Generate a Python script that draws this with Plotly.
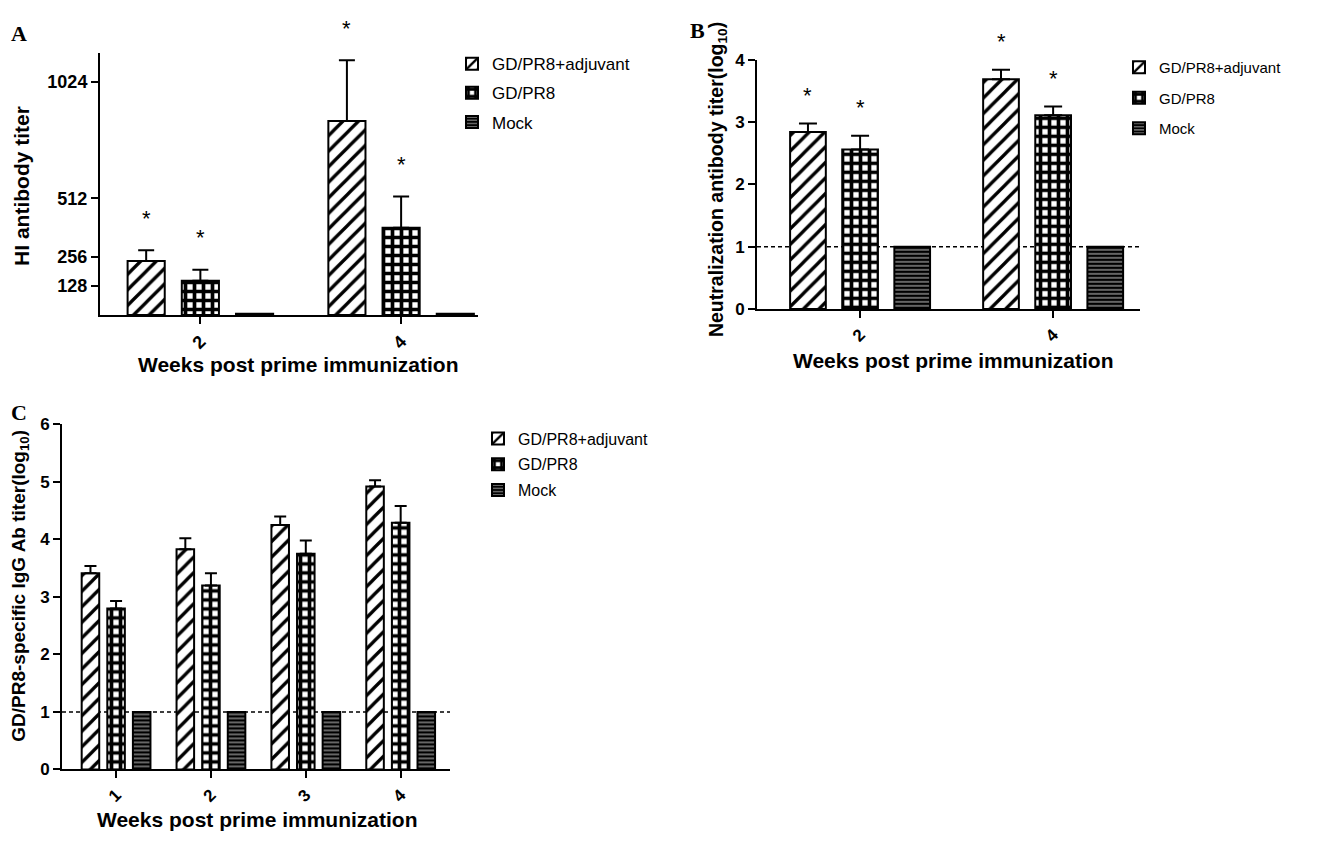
import plotly.graph_objects as go

groups = ["GD/PR8+adjuvant", "GD/PR8", "Mock"]

# ---- Panel A: HI antibody titer ----
a_weeks = ["2", "4"]
a_mean = {"GD/PR8+adjuvant": [237, 851], "GD/PR8": [150, 383], "Mock": [5, 5]}
a_err = {"GD/PR8+adjuvant": [47, 267], "GD/PR8": [48, 137], "Mock": [0, 0]}
a_star = {"GD/PR8+adjuvant": [True, True], "GD/PR8": [True, True], "Mock": [False, False]}
a_yticks = [128, 256, 512, 1024]

# ---- Panel B: neutralization titer (log10) ----
b_weeks = ["2", "4"]
b_mean = {"GD/PR8+adjuvant": [2.84, 3.69], "GD/PR8": [2.56, 3.11], "Mock": [1.0, 1.0]}
b_err = {"GD/PR8+adjuvant": [0.14, 0.15], "GD/PR8": [0.22, 0.14], "Mock": [0, 0]}
b_star = {"GD/PR8+adjuvant": [True, True], "GD/PR8": [True, True], "Mock": [False, False]}
b_yticks = [0, 1, 2, 3, 4]

# ---- Panel C: IgG titer (log10) ----
c_weeks = ["1", "2", "3", "4"]
c_mean = {"GD/PR8+adjuvant": [3.41, 3.83, 4.25, 4.92], "GD/PR8": [2.80, 3.20, 3.75, 4.29], "Mock": [1.0, 1.0, 1.0, 1.0]}
c_err = {"GD/PR8+adjuvant": [0.13, 0.19, 0.15, 0.11], "GD/PR8": [0.13, 0.21, 0.23, 0.29], "Mock": [0, 0, 0, 0]}
c_yticks = [0, 1, 2, 3, 4, 5, 6]

detection_limit = 1

# ---- styles ----
FONT = "Liberation Sans, Arial, sans-serif"
PITCH = 0.27
BW = 0.185
patterns = {
    "GD/PR8+adjuvant": dict(shape="/", fgcolor="black", bgcolor="white", size=11, solidity=0.3, fgopacity=1),
    "GD/PR8": dict(shape="+", fgcolor="black", bgcolor="white", size=9, solidity=0.65, fgopacity=1),
    "Mock": dict(shape="-", fgcolor="white", bgcolor="black", size=4, solidity=0.2, fgopacity=1),
}

W, H = 1324, 843
def px_x(p):
    return p / W
def px_y(p):
    return 1 - p / H

fig = go.Figure()
annotations = []

panels = [
    dict(key="A", weeks=a_weeks, mean=a_mean, err=a_err, star=a_star, xa="x", ya="y", legend="legend",
         cap=8, starshift=32),
    dict(key="B", weeks=b_weeks, mean=b_mean, err=b_err, star=b_star, xa="x2", ya="y2", legend="legend2",
         cap=9, starshift=28),
    dict(key="C", weeks=c_weeks, mean=c_mean, err=c_err, star=None, xa="x3", ya="y3", legend="legend3",
         cap=6, starshift=0),
]

for p in panels:
    idx = list(range(len(p["weeks"])))
    for k, g in enumerate(groups):
        off = (k - 1) * PITCH
        has_err = any(e > 0 for e in p["err"][g])
        fig.add_trace(go.Bar(
            x=idx, y=p["mean"][g], name=g, xaxis=p["xa"], yaxis=p["ya"],
            width=BW, offset=off - BW / 2,
            marker=dict(color="white", line=dict(color="black", width=2), pattern=patterns[g]),
            error_y=dict(type="data", symmetric=False, array=p["err"][g],
                         arrayminus=[0] * len(idx), color="black", thickness=2,
                         width=p["cap"], visible=has_err),
            legend=p["legend"], legendgroup=p["key"] + g, showlegend=True,
        ))
        if p["star"] is not None:
            for i in idx:
                if p["star"][g][i]:
                    annotations.append(dict(
                        x=i + off, y=p["mean"][g][i] + p["err"][g][i],
                        xref=p["xa"], yref=p["ya"], text="*", showarrow=False,
                        xanchor="center", yanchor="middle", yshift=p["starshift"],
                        font=dict(family=FONT, size=22, color="black")))

axis_common = dict(showline=True, linecolor="black", linewidth=2, showgrid=False, zeroline=False,
                   ticks="outside", ticklen=7, tickwidth=2, tickcolor="black")

fig.update_layout(
    width=W, height=H, margin=dict(l=0, r=0, t=0, b=0),
    paper_bgcolor="white", plot_bgcolor="white",
    barmode="overlay",
    xaxis=dict(domain=[px_x(100), px_x(478)], range=[-0.5, 1.383], anchor="y",
               tickvals=list(range(len(a_weeks))), ticktext=a_weeks, tickangle=-45,
               tickfont=dict(family=FONT, size=18, weight="bold", color="black"), **axis_common),
    yaxis=dict(domain=[px_y(313), px_y(45)], range=[0, 1150], anchor="x",
               tickvals=a_yticks, tickfont=dict(family=FONT, size=18, weight="bold", color="black"),
               **axis_common),
    xaxis2=dict(domain=[px_x(757), px_x(1140)], range=[-0.534, 1.45], anchor="y2",
                tickvals=list(range(len(b_weeks))), ticktext=b_weeks, tickangle=-45,
                tickfont=dict(family=FONT, size=17, weight="bold", color="black"), **axis_common),
    yaxis2=dict(domain=[px_y(307), px_y(52)], range=[0, 4], anchor="x2",
                tickvals=b_yticks, tickfont=dict(family=FONT, size=17, weight="bold", color="black"),
                **axis_common),
    xaxis3=dict(domain=[px_x(62), px_x(450)], range=[-0.57, 3.52], anchor="y3",
                tickvals=list(range(len(c_weeks))), ticktext=c_weeks, tickangle=-45,
                tickfont=dict(family=FONT, size=17, weight="bold", color="black"), **axis_common),
    yaxis3=dict(domain=[px_y(778), px_y(425)], range=[0, 6], anchor="x3",
                tickvals=c_yticks, tickfont=dict(family=FONT, size=17, weight="bold", color="black"),
                **axis_common),
    legend=dict(x=px_x(452), y=px_y(38), xanchor="left", yanchor="top", tracegroupgap=4,
                font=dict(family=FONT, size=17, color="black"), bgcolor="rgba(0,0,0,0)"),
    legend2=dict(x=px_x(1119), y=px_y(43), xanchor="left", yanchor="top", tracegroupgap=8,
                 font=dict(family=FONT, size=15, color="black"), bgcolor="rgba(0,0,0,0)"),
    legend3=dict(x=px_x(478), y=px_y(422), xanchor="left", yanchor="top", tracegroupgap=2,
                 font=dict(family=FONT, size=16, color="black"), bgcolor="rgba(0,0,0,0)"),
)

# detection-limit dashed lines
for xa, ya in [("x2", "y2"), ("x3", "y3")]:
    fig.add_shape(type="line", xref=xa + " domain", yref=ya, x0=0, x1=1,
                  y0=detection_limit, y1=detection_limit, layer="below",
                  line=dict(color="black", width=1.5, dash="4px,3px"))

# axis titles and panel letters
title_font = dict(family=FONT, size=21, weight="bold", color="black")
letter_font = dict(family="Liberation Serif, Times New Roman, serif", size=22, weight="bold", color="black")
def ann(x, y, text, font, angle=0):
    return dict(x=px_x(x), y=px_y(y), xref="paper", yref="paper", text=text, textangle=angle,
                showarrow=False, xanchor="center", yanchor="middle", font=font)

annotations += [
    ann(22, 181, "HI antibody titer", title_font, -90),
    ann(298, 364, "Weeks post prime immunization", title_font),
    ann(717, 175, "Neutralization antibody titer(log<sub>10</sub>)",
        dict(family=FONT, size=19.5, weight="bold", color="black"), -90),
    ann(953, 360, "Weeks post prime immunization", title_font),
    ann(20, 590, "GD/PR8-specific IgG Ab titer(log<sub>10</sub>)",
        dict(family=FONT, size=19, weight="bold", color="black"), -90),
    ann(257, 829, "Weeks post prime immunization", title_font),
    ann(19, 25, "A", letter_font),
    ann(697, 22, "B", letter_font),
    ann(19, 413, "C", letter_font),
]
fig.update_layout(annotations=annotations)

fig.write_html("out.html")
